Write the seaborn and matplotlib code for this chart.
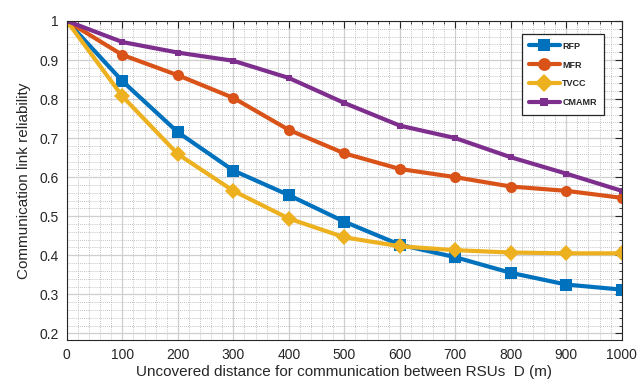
import numpy as np
import pandas as pd
import matplotlib
matplotlib.use("Agg")
import matplotlib.pyplot as plt
from matplotlib.ticker import MultipleLocator
import seaborn as sns

# Uncovered distance between RSUs (m)
distance = [0, 100, 200, 300, 400, 500, 600, 700, 800, 900, 1000]

# Communication link reliability per scheme
rfp = [1.0, 0.846, 0.715, 0.617, 0.554, 0.486, 0.427, 0.395, 0.355, 0.325, 0.312]
mfr = [1.0, 0.913, 0.861, 0.803, 0.721, 0.661, 0.621, 0.600, 0.576, 0.565, 0.547]
tvcc = [1.0, 0.807, 0.659, 0.565, 0.494, 0.446, 0.423, 0.413, 0.407, 0.405, 0.405]
cmamr = [1.0, 0.946, 0.919, 0.898, 0.854, 0.790, 0.732, 0.700, 0.651, 0.609, 0.565]

methods = ["RFP", "MFR", "TVCC", "CMAMR"]
colors = ["#0072BD", "#D95319", "#EDB120", "#7E2F8E"]

df = pd.DataFrame({
    "D": distance * 4,
    "reliability": rfp + mfr + tvcc + cmamr,
    "method": sum([[m] * len(distance) for m in methods], []),
})

sns.set_style("white")
plt.rcParams["font.family"] = ["Liberation Sans", "DejaVu Sans"]

fig = plt.figure(figsize=(6.43, 3.81), dpi=100)
ax = fig.add_axes([0.104, 0.1076, 0.863, 0.8374])

sns.lineplot(
    data=df, x="D", y="reliability", hue="method", style="method",
    hue_order=methods, style_order=methods,
    palette=dict(zip(methods, colors)),
    markers={"RFP": "s", "MFR": "o", "TVCC": "D", "CMAMR": "s"},
    dashes=False, linewidth=3, markersize=8, markeredgewidth=0,
    ax=ax,
)
# smaller marks on the CMAMR curve
for line in ax.lines:
    if line.get_color() in ("#7E2F8E", "#7e2f8e"):
        line.set_markersize(5)

ax.set_xlim(0, 1000)
ax.set_ylim(0.183, 1.0)
ax.xaxis.set_major_locator(MultipleLocator(100))
ax.xaxis.set_minor_locator(MultipleLocator(20))
ax.yaxis.set_major_locator(MultipleLocator(0.1))
ax.yaxis.set_minor_locator(MultipleLocator(0.02))
ax.set_yticks(np.arange(0.2, 1.001, 0.1))
ax.set_yticklabels(["0.2", "0.3", "0.4", "0.5", "0.6", "0.7", "0.8", "0.9", "1"])

ax.grid(which="major", color="#cfcfcf", linewidth=0.9, linestyle="-")
ax.grid(which="minor", color="#b0b0b0", linewidth=0.6, linestyle=(0, (1, 1.5)))
ax.set_axisbelow(True)

ax.tick_params(which="both", direction="in", top=True, right=True, color="#262626")
ax.tick_params(which="major", length=5, width=0.8, labelsize=10, pad=6)
ax.tick_params(which="minor", length=2.5, width=0.6)
for s in ax.spines.values():
    s.set_color("#262626")
    s.set_linewidth(0.8)

ax.set_xlabel("Uncovered distance for communication between RSUs  D (m)", fontsize=11, labelpad=2)
ax.set_ylabel("Communication link reliability", fontsize=11, labelpad=6)

leg = ax.legend(
    loc="upper right", bbox_to_anchor=(0.976, 0.972),
    prop={"weight": "bold", "size": 6.5}, frameon=True, fancybox=False,
    edgecolor="#262626", framealpha=1, handlelength=3.4, borderpad=0.8,
    labelspacing=1.1, handletextpad=0.3, title=None, markerscale=1.15,
)
leg.get_frame().set_linewidth(0.9)

fig.savefig("out.png", dpi=100)
